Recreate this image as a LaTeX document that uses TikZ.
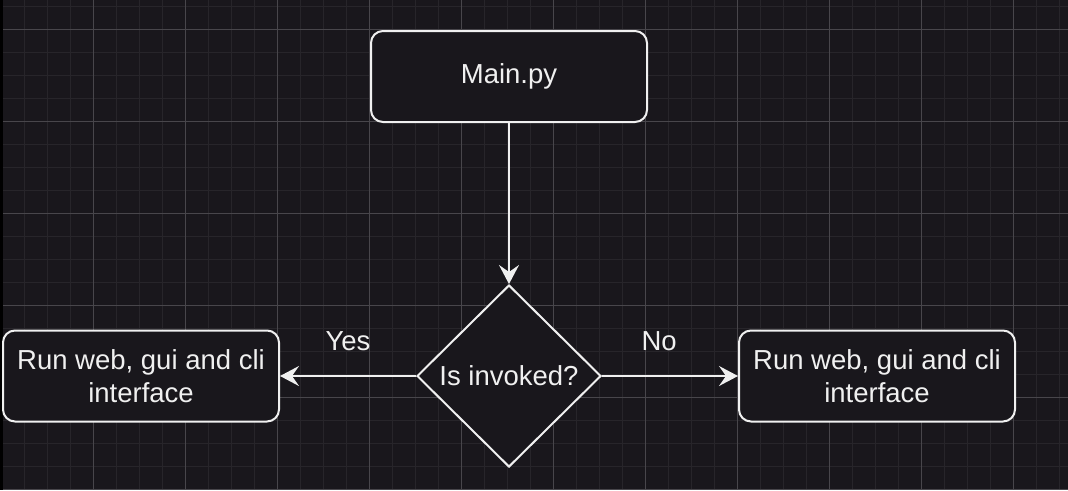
\documentclass[tikz,border=0pt]{standalone}
\usepackage{fontspec}
\setmainfont{Liberation Sans}
\usetikzlibrary{shapes.geometric,arrows.meta}
\definecolor{bg}{RGB}{25,23,28}
\definecolor{minorgrid}{RGB}{39,37,42}
\definecolor{majorgrid}{RGB}{72,70,75}
\definecolor{ink}{RGB}{240,240,240}
\tikzset{
  every node/.style={font=\fontsize{27.5}{33}\selectfont, text=ink},
  box/.style={draw=ink, line width=2pt, fill=bg, rounded corners=12pt,
    minimum width=276pt, minimum height=91pt, inner sep=0pt, align=center},
  decision/.style={draw=ink, line width=2pt, fill=bg, shape=diamond, aspect=1,
    minimum width=184pt, minimum height=182pt, inner sep=0pt},
  arr/.style={draw=ink, line width=2pt, -{Stealth[length=19pt,width=20pt,inset=7pt]}},
  lbl/.style={inner sep=0pt}
}
\begin{document}
\begin{tikzpicture}[x=1pt,y=-1pt]
\useasboundingbox (0,0) rectangle (1068,490);
\fill[bg] (0,0) rectangle (1068,490);
% minor grid
\foreach \i in {0,...,46} {\draw[minorgrid, line width=1pt] ({1+23*\i},0) -- ({1+23*\i},490);}
\foreach \j in {0,...,21} {\draw[minorgrid, line width=1pt] (0,{6+23*\j}) -- (1068,{6+23*\j});}
% major grid
\foreach \i in {0,...,11} {\draw[majorgrid, line width=1pt] ({1+92*\i},0) -- ({1+92*\i},490);}
\foreach \j in {0,...,5} {\draw[majorgrid, line width=1pt] (0,{29+92*\j}) -- (1068,{29+92*\j});}
\fill[black] (0,0) rectangle (2.5,490);

\node[box] (main) at (509,76.5) {Main.py};
\node[decision] (dec) at (509,376) {Is invoked?};
\node[box] (left) at (141,376) {Run web, gui and cli\\interface};
\node[box] (right) at (877,376) {Run web, gui and cli\\interface};

\draw[arr] (main.south) -- (dec.north);
\draw[arr] (dec.west) -- (left.east) node[lbl, pos=0.5, yshift=35pt] (yes) {Yes};
\draw[arr] (dec.east) -- (right.west) node[lbl, pos=0.42, yshift=35pt] (no) {No};
\end{tikzpicture}
\end{document}
